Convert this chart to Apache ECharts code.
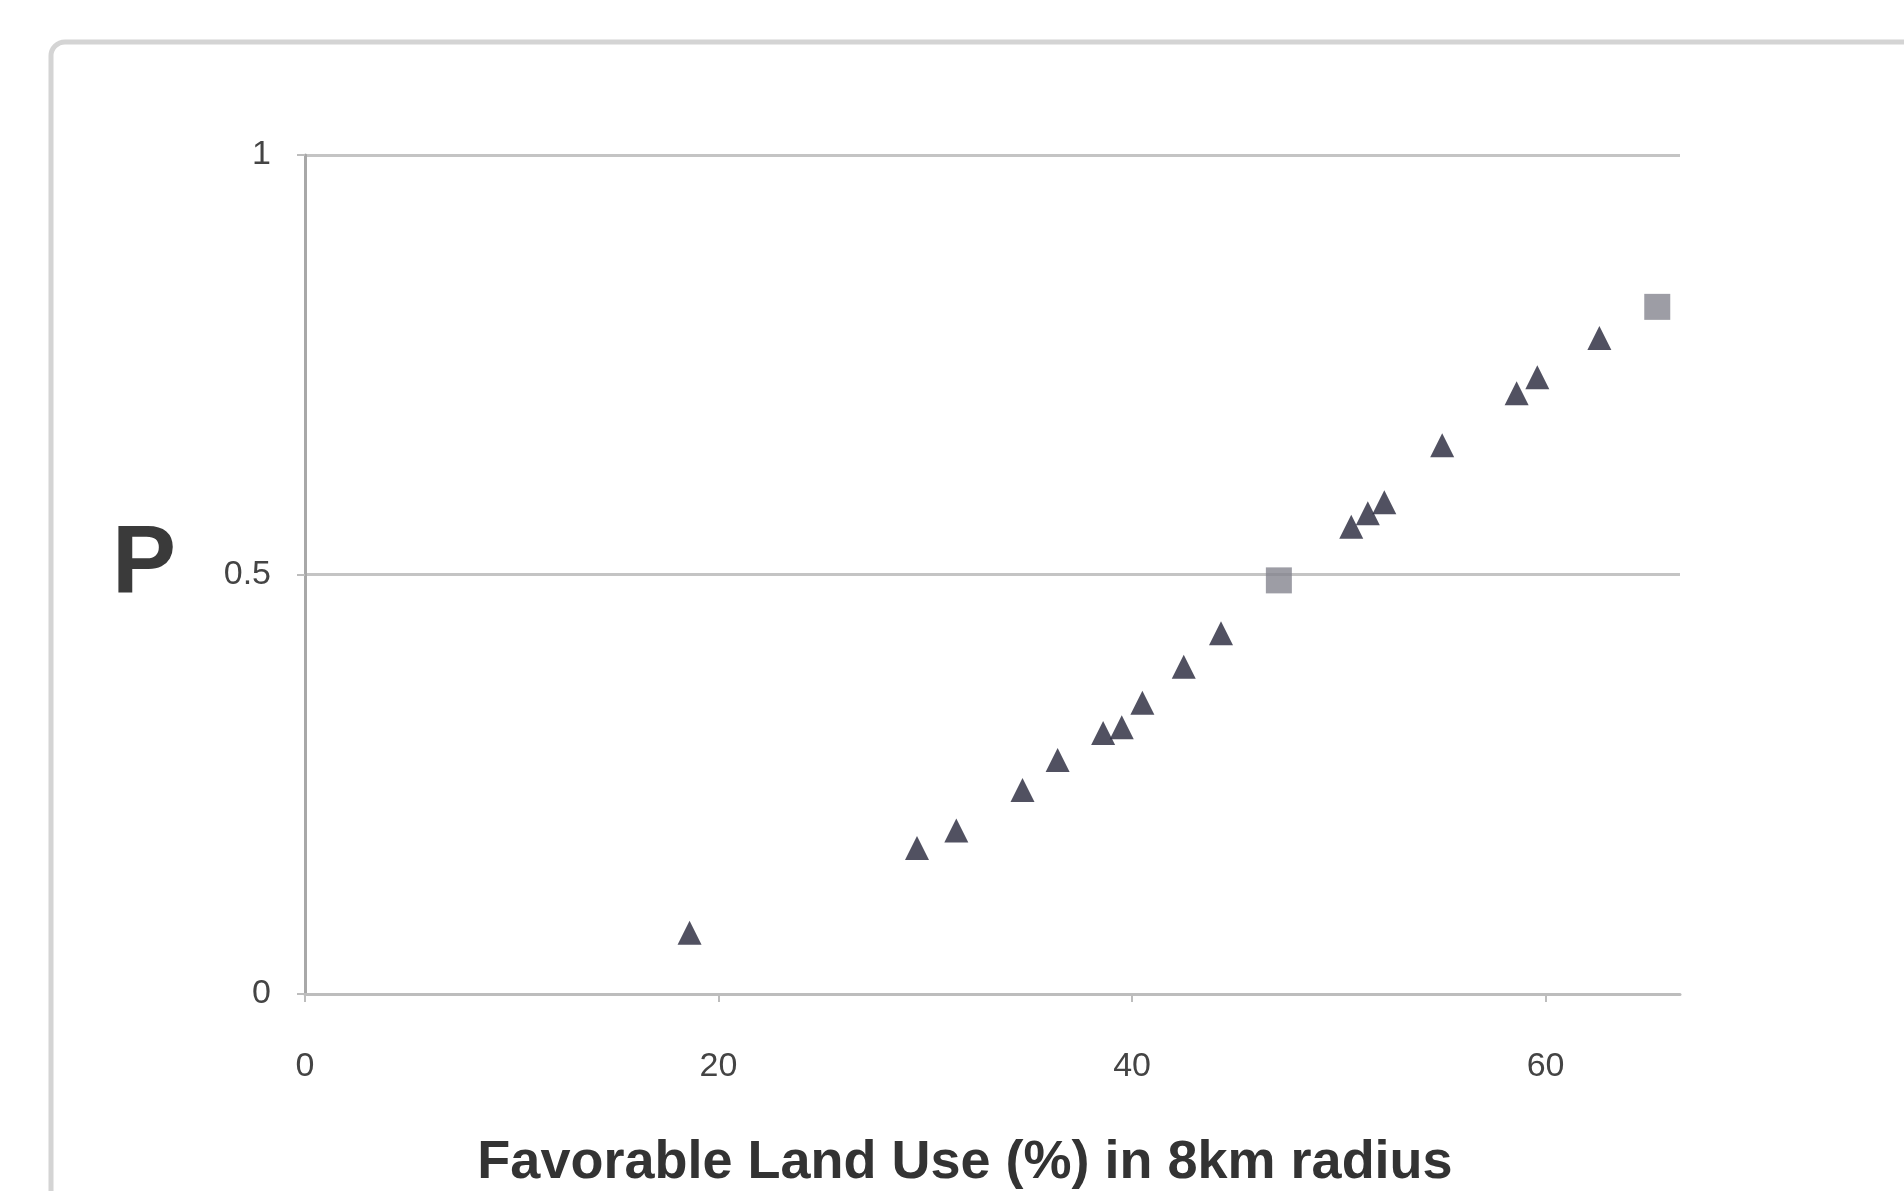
<!DOCTYPE html>
<html>
<head>
<meta charset="utf-8">
<title>Favorable Land Use</title>
<script src="https://cdn.jsdelivr.net/npm/echarts@6/dist/echarts.min.js"></script>
<style>
  html, body { margin: 0; padding: 0; background: #fff; }
  #chart { width: 1904px; height: 1191px; }
</style>
</head>
<body>
<div id="chart"></div>
<script>
// favorable land use (%) within 8km radius vs. response value
var triangleX = [18.6, 29.6, 31.5, 34.7, 36.4, 38.6, 39.5, 40.5, 42.5, 44.3, 50.6, 51.4, 52.2, 55.0, 58.6, 59.6, 62.6];
var triangleY = [0.073, 0.174, 0.195, 0.243, 0.279, 0.311, 0.318, 0.347, 0.39, 0.43, 0.557, 0.573, 0.586, 0.654, 0.716, 0.735, 0.782];
var squareX = [47.1, 65.4];
var squareY = [0.493, 0.819];
var xTicks = [0, 20, 40, 60];
var yTicks = [0, 0.5, 1];

function pairs(xs, ys) {
  var out = [];
  for (var i = 0; i < xs.length; i++) {
    out.push([xs[i], ys[i]]);
  }
  return out;
}

var chart = echarts.init(document.getElementById('chart'));
var option = {
  backgroundColor: '#fff',
  animation: false,
  graphic: [
    {
      type: 'rect',
      shape: { x: 51, y: 42, width: 2000, height: 1300, r: 14 },
      style: { fill: 'none', stroke: '#d4d4d4', lineWidth: 5 }
    },
    {
      type: 'text',
      left: 112,
      top: 518,
      style: { text: 'P', fontSize: 96, fontWeight: 'bold', fill: '#3a3a3a', fontFamily: 'Liberation Sans' }
    },
    {
      // x axis title, partly cut by the bottom edge like the source
      type: 'text',
      x: 965,
      y: 1136,
      style: {
        text: 'Favorable Land Use (%) in 8km radius',
        fontSize: 54, fontWeight: 'bold', fill: '#333', fontFamily: 'Liberation Sans',
        align: 'center', verticalAlign: 'top'
      }
    }
  ],
  grid: { left: 305, right: 224, top: 155, bottom: 197 },
  xAxis: {
    type: 'value',
    min: xTicks[0],
    max: 66.5,
    interval: xTicks[1] - xTicks[0],
    axisLine: { show: true, lineStyle: { color: '#bdbdbd', width: 3 } },
    axisTick: { show: true, length: 8, lineStyle: { color: '#bdbdbd', width: 2 } },
    axisLabel: { showMaxLabel: false, margin: 56, fontSize: 34, color: '#444', fontFamily: 'Liberation Sans' },
    splitLine: { show: false }
  },
  yAxis: {
    type: 'value',
    min: yTicks[0],
    max: yTicks[yTicks.length - 1],
    interval: yTicks[1] - yTicks[0],
    axisLine: { show: true, lineStyle: { color: '#a8a8a8', width: 3 } },
    axisTick: { show: true, length: 8, lineStyle: { color: '#bdbdbd', width: 2 } },
    axisLabel: { margin: 34, fontSize: 34, color: '#444', fontFamily: 'Liberation Sans' },
    splitLine: { show: true, lineStyle: { color: '#c4c4c4', width: 3 } }
  },
  series: [
    {
      name: 'triangle',
      type: 'scatter',
      symbol: 'triangle',
      symbolSize: 24,
      itemStyle: { color: '#26263a' },
      data: pairs(triangleX, triangleY)
    },
    {
      name: 'square',
      type: 'scatter',
      symbol: 'rect',
      symbolSize: 26,
      itemStyle: { color: '#85858f' },
      data: pairs(squareX, squareY)
    }
  ]
};
chart.setOption(option);
window.onresize = chart.resize;
</script>
</body>
</html>
